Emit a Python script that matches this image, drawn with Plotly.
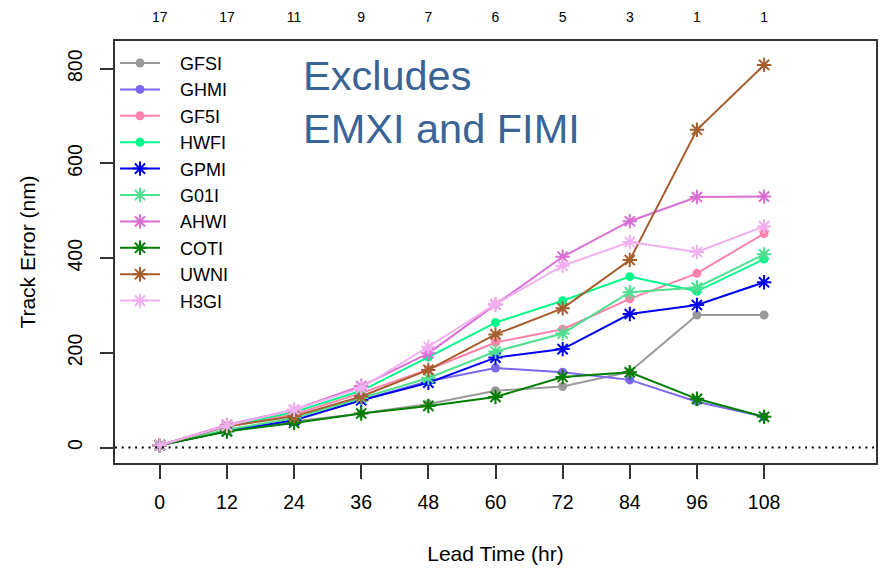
import plotly.graph_objects as go

# Forecast lead times (hours) and number of cases verified at each
lead_time = [0, 12, 24, 36, 48, 60, 72, 84, 96, 108]
case_count = [17, 17, 11, 9, 7, 6, 5, 3, 1, 1]

# Mean track error (nm) for each model
gfsi = [5, 35, 55, 72, 92, 120, 129, 160, 280, 280]
ghmi = [5, 36, 57, 100, 140, 168, 159, 143, 97, 65]
gf5i = [5, 44, 70, 115, 165, 222, 250, 314, 368, 452]
hwfi = [5, 45, 75, 120, 191, 264, 310, 361, 330, 398]
gpmi = [5, 35, 58, 100, 137, 190, 208, 282, 301, 349]
g01i = [5, 38, 62, 105, 147, 203, 241, 328, 338, 408]
ahwi = [5, 48, 80, 130, 199, 302, 403, 478, 529, 530]
coti = [5, 34, 52, 72, 88, 107, 149, 159, 103, 65]
uwni = [5, 45, 66, 108, 164, 239, 294, 396, 671, 808]
h3gi = [5, 46, 80, 126, 213, 303, 384, 434, 413, 467]

models = ["GFSI", "GHMI", "GF5I", "HWFI", "GPMI", "G01I", "AHWI", "COTI", "UWNI", "H3GI"]
errors = [gfsi, ghmi, gf5i, hwfi, gpmi, g01i, ahwi, coti, uwni, h3gi]
colors = ["#9A9A9A", "#7B68EE", "#FF82AB", "#00F88A", "#0000EE",
          "#4EE08E", "#DA70D6", "#007F00", "#A65E2E", "#F0B0F0"]
symbols = ["circle"] * 4 + ["asterisk-open"] * 6

FONT = "Liberation Sans, Arial, sans-serif"
PAD = "\u00a0\u00a0\u00a0"  # gap between legend symbol and label

fig = go.Figure()
for name, vals, col, sym in zip(models, errors, colors, symbols):
    if sym == "circle":
        marker = dict(symbol=sym, size=9, color=col, line=dict(width=0))
    else:
        marker = dict(symbol=sym, size=12, color=col, line=dict(width=2, color=col))
    fig.add_trace(go.Scatter(
        x=lead_time, y=vals, name=PAD + name, mode="lines+markers",
        line=dict(color=col, width=2), marker=marker,
    ))

# Case counts along the top axis
fig.add_trace(go.Scatter(
    x=lead_time, y=[0] * len(lead_time), xaxis="x2", mode="markers",
    marker=dict(opacity=0), showlegend=False, hoverinfo="skip",
))

# Zero reference line
fig.add_shape(type="line", xref="paper", yref="y", x0=0, x1=1, y0=0, y1=0,
              line=dict(color="black", width=2, dash="2px,4.7px"))

fig.add_annotation(text="Excludes", xref="paper", yref="paper",
                   x=(301 - 115) / 763, y=(463.5 - 75) / 423,
                   xanchor="left", yanchor="middle", showarrow=False,
                   font=dict(family=FONT, size=41.5, color="#3A6496"))
fig.add_annotation(text="EMXI and FIMI", xref="paper", yref="paper",
                   x=(301 - 115) / 763, y=(463.5 - 128) / 423,
                   xanchor="left", yanchor="middle", showarrow=False,
                   font=dict(family=FONT, size=41.5, color="#3A6496"))

fig.update_layout(
    width=881, height=570,
    margin=dict(l=115, r=3, t=40.5, b=106.5),
    plot_bgcolor="white", paper_bgcolor="white",
    font=dict(family=FONT, size=19.5, color="black"),
    xaxis=dict(
        range=[-8, 128], tickmode="array", tickvals=lead_time,
        ticks="outside", ticklen=14, tickwidth=1.5, tickcolor="#333",
        showline=True, linecolor="#333", linewidth=1.5, mirror=True,
        showgrid=False, zeroline=False, ticklabelstandoff=7,
        title=dict(text="Lead Time (hr)", font=dict(size=21), standoff=34),
    ),
    xaxis2=dict(
        range=[-8, 128], overlaying="x", side="top", tickmode="array",
        tickvals=lead_time, ticktext=[str(c) for c in case_count],
        ticks="outside", ticklen=12, tickcolor="rgba(0,0,0,0)",
        showline=False, showgrid=False, zeroline=False,
        tickfont=dict(size=14),
    ),
    yaxis=dict(
        range=[-32.5, 858.5], tickmode="array", tickvals=[0, 200, 400, 600, 800],
        tickangle=-90, ticks="outside", ticklen=13, tickwidth=1.5, tickcolor="#333",
        showline=True, linecolor="#333", linewidth=1.5, mirror=True,
        showgrid=False, zeroline=False, ticklabelstandoff=10,
        title=dict(text="Track Error (nm)", font=dict(size=21), standoff=23),
    ),
    legend=dict(
        x=0, y=0.991, xanchor="left", yanchor="top",
        bgcolor="rgba(0,0,0,0)", borderwidth=0,
        font=dict(size=18), itemwidth=40, tracegroupgap=0,
    ),
    showlegend=True,
)

fig.write_html("out.html")
